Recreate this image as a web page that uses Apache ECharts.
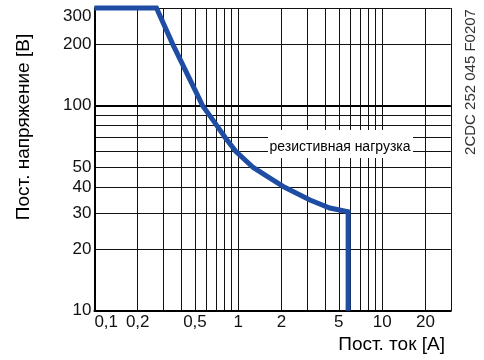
<!DOCTYPE html>
<html>
<head>
<meta charset="utf-8">
<script src="https://cdn.jsdelivr.net/npm/echarts@6/dist/echarts.min.js"></script>
<style>
html,body{margin:0;padding:0;background:#fff;}
#chart{width:484px;height:360px;}
</style>
</head>
<body>
<div id="chart"></div>
<script>
// Data (current in A, voltage in V)
var curveI = [0.1, 0.27, 0.35, 0.53, 0.565, 0.63, 0.71, 0.81, 0.96, 1.27, 1.66, 2.1, 3.15, 4.33, 5.8, 5.8];
var curveU = [300, 300, 200, 110, 100, 90, 80, 70, 60, 50, 44.4, 40, 34.7, 31.7, 30.4, 10];
var xGrid = [0.2, 0.3, 0.4, 0.5, 0.6, 0.7, 0.8, 0.9, 1, 2, 3, 4, 5, 6, 7, 8, 9, 10, 20, 30];
var yGrid = [20, 30, 40, 50, 60, 70, 80, 90, 100, 200, 300];
var xTickLabels = [0.1, 0.2, 0.5, 1, 2, 5, 10, 20];
var yTickLabels = [10, 20, 30, 40, 50, 100, 200, 300];
var xTitle = 'Пост. ток [A]';
var yTitle = 'Пост. напряжение [В]';
var noteText = 'резистивная нагрузка';
var codeText = '2CDC 252 045 F0207';

var chart = echarts.init(document.getElementById('chart'), null, {renderer: 'canvas'});
var tickFont = '"Liberation Sans Narrow", "Liberation Sans", Arial, sans-serif';
var mainFont = '"Liberation Sans", Arial, sans-serif';
function fmt(v) { return String(+v.toPrecision(6)).replace('.', ','); }

var option = {
  animation: false,
  backgroundColor: '#fff',
  grid: {left: 94.4, right: 33.2, top: 8, bottom: 49.3, show: false},
  xAxis: {
    type: 'log', logBase: 10, min: 0.1, max: 30,
    axisLine: {show: true, lineStyle: {color: '#000', width: 2}},
    axisTick: {show: false, customValues: xGrid},
    splitLine: {show: true, lineStyle: {color: '#111', width: 1}},
    axisLabel: {
      customValues: xTickLabels, formatter: fmt, color: '#111',
      fontFamily: tickFont, fontSize: 17, margin: 3, alignMinLabel: 'left'
    }
  },
  yAxis: {
    type: 'log', logBase: 10, min: 10, max: 300,
    axisLine: {show: true, lineStyle: {color: '#000', width: 2}},
    axisTick: {show: false, customValues: yGrid},
    splitLine: {show: true, lineStyle: {color: '#111', width: 1}},
    axisLabel: {
      customValues: yTickLabels, formatter: fmt, color: '#111',
      fontFamily: tickFont, fontSize: 17, margin: 3, verticalAlignMaxLabel: 'top'
    }
  },
  series: [{
    type: 'line',
    data: curveI.map(function (x, i) { return [x, curveU[i]]; }),
    showSymbol: false,
    clip: false,
    z: 5,
    lineStyle: {color: '#1e4da3', width: 5, join: 'miter'},
    markLine: {
      silent: true, symbol: 'none', label: {show: false},
      lineStyle: {color: '#000', width: 2, type: 'solid'},
      data: [{yAxis: 100}]
    }
  }],
  graphic: [
    {type: 'text', x: 24, y: 127, rotation: Math.PI / 2, z: 100,
     style: {text: yTitle, font: '19px ' + mainFont, fill: '#000', align: 'center', verticalAlign: 'middle'}},
    {type: 'text', x: 445, y: 345, z: 100,
     style: {text: xTitle, font: '19px ' + mainFont, fill: '#000', align: 'right', verticalAlign: 'middle'}},
    {type: 'text', x: 471, y: 82, rotation: Math.PI / 2, z: 100,
     style: {text: codeText, font: '15px ' + mainFont, fill: '#333', align: 'center', verticalAlign: 'middle'}},
    {type: 'rect', shape: {x: 268, y: 130, width: 145, height: 28}, z: 100,
     style: {fill: '#fff'}},
    {type: 'text', x: 340, y: 147, z: 101,
     style: {text: noteText, font: '14px ' + mainFont, fill: '#000', align: 'center', verticalAlign: 'middle'}}
  ]
};
chart.setOption(option);
</script>
</body>
</html>
